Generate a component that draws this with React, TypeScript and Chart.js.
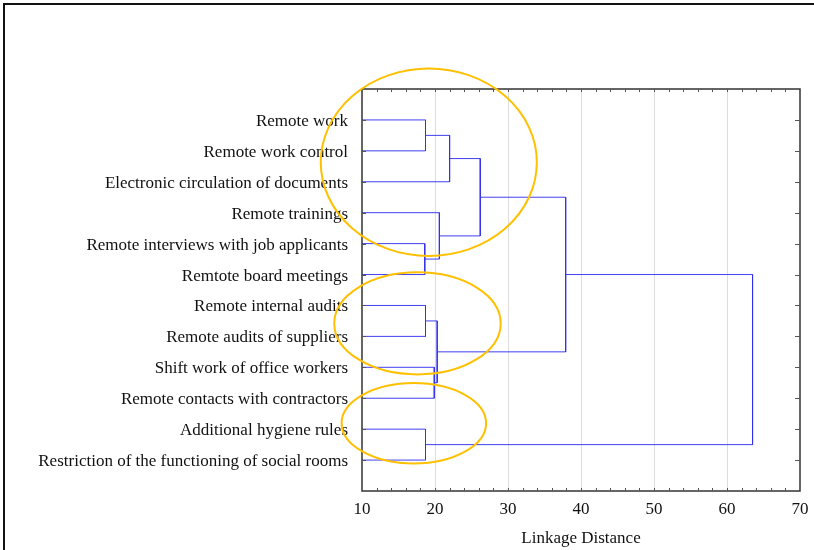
import React, { useEffect, useRef } from "react";
import { Chart, registerables } from "chart.js";

Chart.register(...registerables);

// Leaves of the dendrogram, top to bottom
const categories = [
  "Remote work",
  "Remote work control",
  "Electronic circulation of documents",
  "Remote trainings",
  "Remote interviews with job applicants",
  "Remtote board meetings",
  "Remote internal audits",
  "Remote audits of suppliers",
  "Shift work of office workers",
  "Remote contacts with contractors",
  "Additional hygiene rules",
  "Restriction of the functioning of social rooms",
];

// Agglomeration steps: ids 0..11 are leaves, ids from 12 on are earlier merges
const mergeLeft = [0, 12, 4, 3, 13, 6, 8, 17, 16, 10, 20];
const mergeRight = [1, 2, 5, 14, 15, 7, 9, 18, 19, 11, 21];
const mergeDistance = [18.7, 22.0, 18.6, 20.6, 26.2, 18.7, 19.9, 20.3, 37.9, 18.7, 63.5];

const xMin = 10;
const xMax = 70;
const xStep = 10;
const xMinorStep = 2;

// Highlighted groups (ellipses) in axis units: linkage distance / row position
const groupCenterX = [19.15, 17.6, 17.1];
const groupCenterY = [2.37, 7.58, 10.81];
const groupRadiusX = [14.8, 11.4, 9.9];
const groupRadiusY = [3.03, 1.65, 1.3];

const SERIF = "'Liberation Serif', 'Times New Roman', serif";
const LINK_COLOR = "rgba(48, 48, 240, 0.92)";
const AXIS_COLOR = "#333";

function buildLinks() {
  const nodeX: number[] = categories.map(() => xMin);
  const nodeY: number[] = categories.map((_, i) => i + 1);
  return mergeLeft.map((l, k) => {
    const r = mergeRight[k];
    const d = mergeDistance[k];
    const pts = [
      { x: nodeX[l], y: nodeY[l] },
      { x: d, y: nodeY[l] },
      { x: d, y: nodeY[r] },
      { x: nodeX[r], y: nodeY[r] },
    ];
    nodeX.push(d);
    nodeY.push((nodeY[l] + nodeY[r]) / 2);
    return pts;
  });
}

const framePlugin = {
  id: "frameAndMarks",
  beforeDraw(chart: any) {
    const { ctx, width, height } = chart;
    ctx.save();
    ctx.fillStyle = "#fff";
    ctx.fillRect(0, 0, width, height);
    ctx.strokeStyle = "#111";
    ctx.lineWidth = 2;
    ctx.beginPath();
    ctx.moveTo(4, height);
    ctx.lineTo(4, 4);
    ctx.lineTo(width, 4);
    ctx.stroke();
    ctx.restore();
  },
  afterDraw(chart: any) {
    const { ctx, chartArea: a, scales } = chart;
    const xs = scales.x;
    const ys = scales.y;
    ctx.save();
    // plot box
    ctx.strokeStyle = AXIS_COLOR;
    ctx.lineWidth = 1.5;
    ctx.strokeRect(a.left, a.top, a.right - a.left, a.bottom - a.top);
    // inward ticks
    ctx.lineWidth = 1;
    ctx.strokeStyle = "#555";
    ctx.beginPath();
    for (let v = xMin + xMinorStep; v < xMax; v += xMinorStep) {
      const px = Math.round(xs.getPixelForValue(v)) + 0.5;
      ctx.moveTo(px, a.top);
      ctx.lineTo(px, a.top + 3);
      ctx.moveTo(px, a.bottom);
      ctx.lineTo(px, a.bottom - 3);
    }
    categories.forEach((_, i) => {
      const py = Math.round(ys.getPixelForValue(i + 1)) + 0.5;
      ctx.moveTo(a.left, py);
      ctx.lineTo(a.left + 4, py);
      ctx.moveTo(a.right, py);
      ctx.lineTo(a.right - 5, py);
    });
    ctx.stroke();
    // highlighted groups
    ctx.strokeStyle = "#FFC000";
    ctx.lineWidth = 2;
    const unitX = xs.getPixelForValue(xMin + 1) - xs.getPixelForValue(xMin);
    const unitY = Math.abs(ys.getPixelForValue(1) - ys.getPixelForValue(0));
    groupCenterX.forEach((cx, i) => {
      ctx.beginPath();
      ctx.ellipse(
        xs.getPixelForValue(cx),
        ys.getPixelForValue(groupCenterY[i]),
        groupRadiusX[i] * unitX,
        groupRadiusY[i] * unitY,
        0,
        0,
        Math.PI * 2
      );
      ctx.stroke();
    });
    ctx.restore();
  },
};

export default function App() {
  const canvasRef = useRef<HTMLCanvasElement | null>(null);

  useEffect(() => {
    const canvas = canvasRef.current;
    if (!canvas) return;
    const links = buildLinks();
    const chart = new Chart(canvas, {
      type: "scatter",
      data: {
        datasets: links.map((pts) => ({
          data: pts,
          showLine: true,
          borderColor: LINK_COLOR,
          borderWidth: 1,
          pointRadius: 0,
          pointHoverRadius: 0,
          tension: 0,
          fill: false,
        })),
      },
      options: {
        responsive: false,
        animation: false,
        events: [],
        layout: { padding: { top: 89, right: 14, bottom: 0, left: 0 } },
        plugins: {
          legend: { display: false },
          tooltip: { enabled: false },
        },
        scales: {
          x: {
            type: "linear",
            min: xMin,
            max: xMax,
            afterFit(scale: any) {
              scale.height = 59;
              scale.paddingLeft = 0;
              scale.paddingRight = 0;
            },
            border: { display: false },
            grid: {
              drawTicks: false,
              color: (c: any) =>
                c.tick && (c.tick.value === xMin || c.tick.value === xMax) ? "rgba(0,0,0,0)" : "#dddddd",
              lineWidth: 1,
            },
            ticks: {
              stepSize: xStep,
              padding: 8,
              color: "#111",
              font: { family: SERIF, size: 17 },
              maxRotation: 0,
            },
            title: {
              display: true,
              text: "Linkage Distance",
              color: "#111",
              font: { family: SERIF, size: 17 },
              padding: { top: 0, bottom: 1 },
            },
          },
          y: {
            type: "linear",
            min: 0,
            max: categories.length + 1,
            reverse: true,
            afterFit(scale: any) {
              scale.width = 362;
              scale.paddingTop = 0;
              scale.paddingBottom = 0;
            },
            afterBuildTicks(scale: any) {
              scale.ticks = categories.map((_, i) => ({ value: i + 1 }));
            },
            border: { display: false },
            grid: { display: false, drawTicks: false },
            ticks: {
              padding: 14,
              labelOffset: 1.5,
              color: "#111",
              font: { family: SERIF, size: 17 },
              autoSkip: false,
              callback: (v: any) => categories[Number(v) - 1] ?? "",
            },
          },
        },
      },
      plugins: [framePlugin],
    });
    return () => chart.destroy();
  }, []);

  return (
    <div style={{ position: "fixed", left: 0, top: 0, width: 814, height: 550, background: "#fff" }}>
      <canvas ref={canvasRef} width={814} height={550} style={{ display: "block" }} />
    </div>
  );
}
